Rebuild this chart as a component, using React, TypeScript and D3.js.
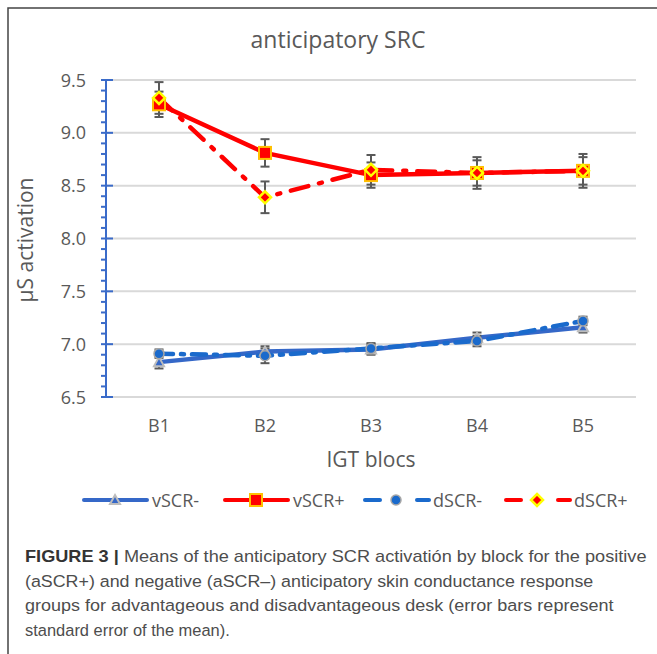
import React, { useEffect, useRef } from 'react';
import * as d3 from 'd3';

const blocks = ['B1', 'B2', 'B3', 'B4', 'B5'];
const vScrMinus = [6.83, 6.93, 6.95, 7.06, 7.16];
const vScrMinusErr = [0.06, 0.05, 0.05, 0.05, 0.05];
const vScrPlus = [9.27, 8.81, 8.6, 8.62, 8.64];
const vScrPlusErr = [0.12, 0.13, 0.12, 0.15, 0.16];
const dScrMinus = [6.91, 6.89, 6.96, 7.03, 7.22];
const dScrMinusErr = [0.04, 0.07, 0.05, 0.05, 0.04];
const dScrPlus = [9.33, 8.39, 8.65, 8.62, 8.64];
const dScrPlusErr = [0.15, 0.15, 0.14, 0.12, 0.13];
const yTicks = [6.5, 7.0, 7.5, 8.0, 8.5, 9.0, 9.5];
const captionLines = [
    'Means of the anticipatory SCR activatión by block for the positive',
    '(aSCR+) and negative (aSCR–) anticipatory skin conductance response',
    'groups for advantageous and disadvantageous desk (error bars represent',
    'standard error of the mean).',
];

const font = '"Open Sans", sans-serif';
const grey = '#595959';

export default function App() {
    const ref = useRef<SVGSVGElement | null>(null);
    useEffect(() => {
        const svg = d3.select(ref.current);
        svg.selectAll('*').remove();
        const width = 657, height = 654;
        const plot = { left: 106, right: 636, top: 80, bottom: 397 };

        const x = d3.scaleBand().domain(blocks).range([plot.left, plot.right]);
        const cx = (b: string) => (x(b) as number) + x.bandwidth() / 2;
        const y = d3.scaleLinear().domain([6.5, 9.5]).range([plot.bottom, plot.top]);

        svg.append('rect').attr('width', width).attr('height', height).attr('fill', '#fff');
        // frame
        svg.append('path').attr('d', `M8,${height} L8,8 L${width},8`)
            .attr('fill', 'none').attr('stroke', '#444').attr('stroke-width', 1.5);

        svg.append('text').attr('x', 338).attr('y', 48).attr('text-anchor', 'middle')
            .attr('font-family', font).attr('font-size', 23).attr('fill', grey)
            .text('anticipatory SRC');

        // gridlines
        svg.append('g').selectAll('line').data(yTicks).join('line')
            .attr('x1', plot.left).attr('x2', plot.right)
            .attr('y1', d => y(d)).attr('y2', d => y(d))
            .attr('stroke', '#d9d9d9').attr('stroke-width', 2);

        // y axis
        const axisBlue = '#3a6bc9';
        const minor = d3.range(65, 96).map(v => v / 10).filter(v => Math.round(v * 10) % 5 !== 0);
        svg.append('g').selectAll('line').data(minor).join('line')
            .attr('x1', 101).attr('x2', plot.left).attr('y1', d => y(d)).attr('y2', d => y(d))
            .attr('stroke', axisBlue).attr('stroke-width', 2);
        svg.append('g').selectAll('line').data(yTicks).join('line')
            .attr('x1', 101).attr('x2', 113).attr('y1', d => y(d)).attr('y2', d => y(d))
            .attr('stroke', axisBlue).attr('stroke-width', 2);
        svg.append('line').attr('x1', plot.left).attr('x2', plot.left)
            .attr('y1', plot.top - 1).attr('y2', plot.bottom + 1)
            .attr('stroke', axisBlue).attr('stroke-width', 2);
        svg.append('g').selectAll('text').data(yTicks).join('text')
            .attr('x', 86).attr('y', d => y(d) + 6.5).attr('text-anchor', 'end')
            .attr('font-family', font).attr('font-size', 18).attr('fill', grey)
            .text(d => d.toFixed(1));

        svg.append('g').selectAll('text').data(blocks).join('text')
            .attr('x', d => cx(d)).attr('y', 432).attr('text-anchor', 'middle')
            .attr('font-family', font).attr('font-size', 18).attr('fill', grey)
            .text(d => d);
        svg.append('text').attr('x', 371).attr('y', 467).attr('text-anchor', 'middle')
            .attr('font-family', font).attr('font-size', 21).attr('fill', grey).text('IGT blocs');
        svg.append('text').attr('transform', 'translate(33,240) rotate(-90)').attr('text-anchor', 'middle')
            .attr('font-family', font).attr('font-size', 21).attr('fill', grey).text('µS activation');

        const series = [
            { name: 'vSCR-', vals: vScrMinus, err: vScrMinusErr, color: '#3568c8', dash: null, marker: 'triangle' },
            { name: 'vSCR+', vals: vScrPlus, err: vScrPlusErr, color: '#ff0000', dash: null, marker: 'square' },
            { name: 'dSCR-', vals: dScrMinus, err: dScrMinusErr, color: '#1a6acc', dash: '14 8 3 8', marker: 'circle' },
            { name: 'dSCR+', vals: dScrPlus, err: dScrPlusErr, color: '#ff0000', dash: '18 11 3 11', marker: 'diamond' },
        ];

        const drawMarker = (g: any, kind: string, px: number, py: number) => {
            if (kind === 'triangle') {
                g.append('path').attr('d', `M${px},${py - 5} L${px + 5},${py + 4} L${px - 5},${py + 4} Z`)
                    .attr('fill', '#3568c8').attr('stroke', '#bdbdbd').attr('stroke-width', 2);
            } else if (kind === 'square') {
                g.append('rect').attr('x', px - 6).attr('y', py - 6).attr('width', 12).attr('height', 12)
                    .attr('fill', '#ff0000').attr('stroke', '#ffc000').attr('stroke-width', 2);
            } else if (kind === 'circle') {
                g.append('circle').attr('cx', px).attr('cy', py).attr('r', 5)
                    .attr('fill', '#1a6acc').attr('stroke', '#a6a6a6').attr('stroke-width', 1.5);
            } else {
                g.append('path').attr('d', `M${px},${py - 6} L${px + 6},${py} L${px},${py + 6} L${px - 6},${py} Z`)
                    .attr('fill', '#ff0000').attr('stroke', '#ffff00').attr('stroke-width', 2.5);
            }
        };

        const line = d3.line<number>().x((_, i) => cx(blocks[i])).y(d => y(d));
        series.forEach(s => {
            svg.append('path').datum(s.vals).attr('d', line)
                .attr('fill', 'none').attr('stroke', s.color).attr('stroke-width', 4.5)
                .attr('stroke-dasharray', s.dash).attr('stroke-linecap', 'round');
        });

        // error bars
        series.forEach(s => {
            const g = svg.append('g').attr('stroke', grey).attr('stroke-width', 2);
            s.vals.forEach((v, i) => {
                const px = cx(blocks[i]);
                const lo = y(v - s.err[i]), hi = y(v + s.err[i]);
                g.append('line').attr('x1', px).attr('x2', px).attr('y1', lo).attr('y2', hi);
                g.append('line').attr('x1', px - 4.5).attr('x2', px + 4.5).attr('y1', lo).attr('y2', lo);
                g.append('line').attr('x1', px - 4.5).attr('x2', px + 4.5).attr('y1', hi).attr('y2', hi);
            });
        });

        series.forEach(s => {
            const g = svg.append('g');
            s.vals.forEach((v, i) => drawMarker(g, s.marker, cx(blocks[i]), y(v)));
        });

        // legend
        const legendY = 500;
        const legendX = [84, 225, 365, 506];
        series.forEach((s, i) => {
            const g = svg.append('g');
            const x0 = legendX[i];
            if (!s.dash) {
                g.append('line').attr('x1', x0).attr('x2', x0 + 63).attr('y1', legendY).attr('y2', legendY)
                    .attr('stroke', s.color).attr('stroke-width', 4).attr('stroke-linecap', 'round');
            } else {
                [[x0, x0 + 15], [x0 + 52, x0 + 64]].forEach(([a, b]) => {
                    g.append('line').attr('x1', a).attr('x2', b).attr('y1', legendY).attr('y2', legendY)
                        .attr('stroke', s.color).attr('stroke-width', 4).attr('stroke-linecap', 'round');
                });
            }
            drawMarker(g, s.marker, x0 + 31, legendY);
            g.append('text').attr('x', x0 + 68).attr('y', legendY + 6.5)
                .attr('font-family', font).attr('font-size', 18).attr('fill', grey).text(s.name);
        });

        // caption: each line squeezed horizontally to the reference width
        const capFont = '"Liberation Sans", Arial, sans-serif';
        const capEnds = [647, 594, 614, 230];
        captionLines.forEach((t, i) => {
            const y0 = 562 + i * 24.7;
            const txt = svg.append('text').attr('font-family', capFont)
                .attr('font-size', 17).attr('fill', '#4d4d4d');
            if (i === 0) {
                txt.append('tspan').attr('font-weight', 'bold').attr('fill', '#333').text('FIGURE 3 | ');
            }
            txt.append('tspan').text(t);
            const len = (txt.node() as SVGTextElement).getComputedTextLength();
            const sx = len > 0 ? (capEnds[i] - 25) / len : 1;
            txt.attr('transform', `translate(25,${y0}) scale(${sx},1)`);
        });
    }, []);
    return <svg ref={ref} width={657} height={654} style={{ position: 'absolute', left: 0, top: 0 }} />;
}
